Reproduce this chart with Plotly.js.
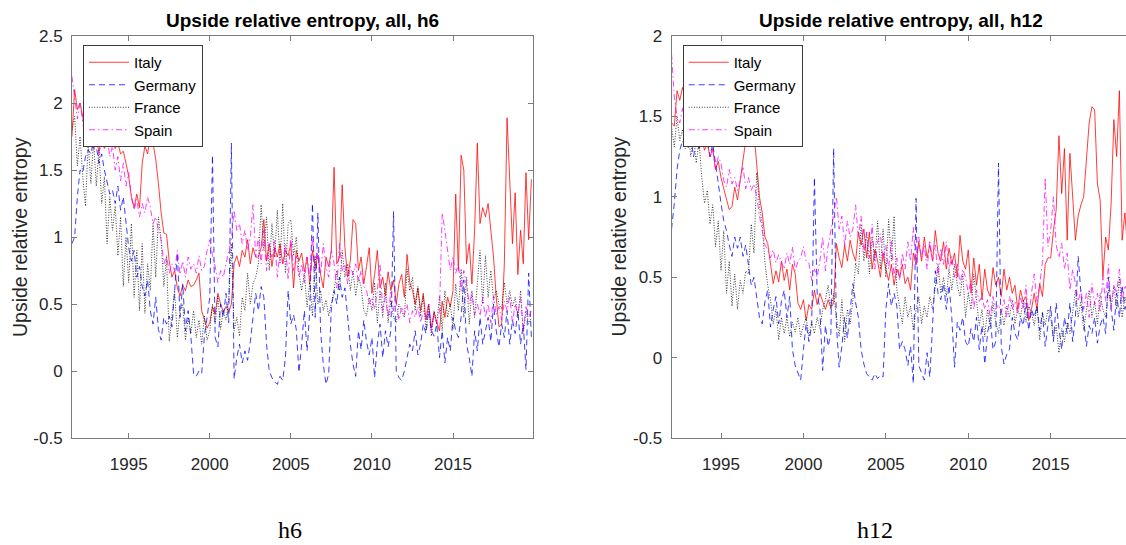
<!DOCTYPE html>
<html><head><meta charset="utf-8">
<script src="https://cdn.plot.ly/plotly-3.0.1.min.js"></script>
<style>html,body{margin:0;padding:0;background:#fff}#chart{width:1126px;height:545px}</style>
</head><body><div id="chart"></div>
<script>
const countries = ["Italy", "Germany", "France", "Spain"];
const tickYears = [1995, 2000, 2005, 2010, 2015];
const yTicksH6 = [-0.5, 0, 0.5, 1, 1.5, 2, 2.5];
const yTicksH12 = [-0.5, 0, 0.5, 1, 1.5, 2];
const h6Start = 1991.5;   // first observation, h6 panel
const h12Start = 1992.0;  // first observation, h12 panel
const stepYears = 1 / 6;  // two months

const h6Italy = [
 1.75, 2.10, 1.95,
 2.00, 1.90, 1.72, 1.68, 1.78, 1.66,
 1.72, 1.64, 1.74, 1.66, 1.70, 1.68,
 1.73, 1.66, 1.70, 1.62, 1.64, 1.55,
 1.45, 1.30, 1.22, 1.32, 1.22, 1.55,
 1.68, 1.62, 1.75, 1.70, 1.58, 1.40,
 1.18, 1.03, 1.02, 0.82, 0.70, 0.75,
 0.62, 0.56, 0.64, 0.60, 0.68, 0.63,
 0.64, 0.68, 0.73, 0.45, 0.38, 0.32,
 0.36, 0.48, 0.42, 0.58, 0.50, 0.44,
 0.48, 0.44, 0.50, 0.80, 0.86, 0.78,
 0.90, 0.85, 0.98, 0.80, 0.92, 0.85,
 0.85, 0.92, 1.13, 0.82, 0.95, 0.78,
 0.92, 0.85, 0.95, 0.80, 0.90, 0.86,
 0.95, 0.62, 0.90, 0.82, 0.88, 0.74,
 0.85, 0.65, 0.90, 0.78, 0.86, 0.72,
 0.62, 0.85, 0.78, 0.90, 1.52, 0.80,
 0.85, 1.39, 0.92, 0.70, 0.82, 1.13,
 1.10, 0.75, 0.85, 0.65, 0.78, 0.92,
 0.58, 0.72, 0.90, 0.62, 0.70, 0.56,
 0.74, 0.60, 0.68, 0.50, 0.65, 0.72,
 0.55, 0.87, 0.66, 0.60, 0.50, 0.62,
 0.45, 0.58, 0.38, 0.50, 0.32, 0.44,
 0.36, 0.30, 0.52, 0.40, 0.55, 0.48,
 0.60, 1.32, 0.75, 1.61, 1.50, 0.80,
 0.95, 0.65, 1.05, 1.70, 1.10, 1.22,
 1.15, 1.25, 1.05, 0.85, 0.55, 0.33,
 0.35, 0.80, 1.89, 1.40, 0.95, 1.33,
 0.72, 1.05, 0.80, 1.48, 0.98, 1.43
];
const h6Germany = [
 0.95, 1.00, 1.30,
 1.50, 1.48, 1.60, 1.65, 1.62, 1.72,
 1.68, 1.55, 1.62, 1.50, 1.40, 1.32,
 1.35, 1.25, 1.38, 1.20, 1.30, 1.10,
 0.92, 0.82, 0.90, 0.70, 0.78, 0.63,
 0.56, 0.68, 0.45, 0.35, 0.55, 0.31,
 0.23, 0.40, 0.35, 0.41, 0.33, 0.60,
 0.88, 0.40, 0.65, 0.30, 0.45, 0.26,
 -0.02, -0.04, 0.00, -0.02, 0.26, 0.40,
 0.55, 1.61, 0.25, 0.18, 0.50, 0.40,
 0.58, 0.36, 1.70, -0.06, 0.10, 0.20,
 0.06, 0.15, 0.08, 0.22, 0.40, 0.58,
 0.45, 0.63, 0.55, 0.20, 0.00, -0.05,
 -0.08, -0.10, -0.04, -0.07, 0.10, 0.60,
 0.35, 0.42, 0.31, -0.01, 0.20, 0.45,
 0.15, 0.45, 1.25, 0.40, 1.18, 0.30,
 0.05, -0.10, -0.02, 0.48, 0.60, 0.50,
 0.70, 0.55, 0.62, 0.40, 0.20, 0.05,
 -0.04, 0.30, 0.16, 0.38, 0.22, 0.12,
 0.25, -0.05, 0.20, 0.35, 0.10, 0.30,
 0.18, 0.30, 1.19, 0.00, -0.05, -0.07,
 0.00, 0.10, 0.20, 0.15, 0.30, 0.12,
 0.20, 0.35, 0.28, 0.45, 0.30, 0.26,
 0.35, 0.10, 0.30, 0.06, 0.25, 0.15,
 0.40, 0.30, 0.25, 0.40, 0.68, 0.20,
 0.10, -0.04, 0.30, 0.15, 0.40, 0.20,
 0.30, 0.40, 0.22, 0.50, 0.30, 0.18,
 0.35, 0.25, 0.45, 0.20, 0.38, 0.28,
 0.45, 0.20, 0.35, 0.01, 0.73, 0.25
];
const h6France = [
 1.80, 1.90, 1.53,
 1.75, 1.45, 1.23, 1.70, 1.40, 1.72,
 1.38, 1.65, 1.25, 1.45, 0.95, 1.30,
 1.05, 1.23, 0.86, 1.15, 0.63, 1.00,
 0.66, 1.10, 0.55, 0.90, 0.45, 0.95,
 0.43, 0.80, 0.60, 1.10, 0.70, 1.15,
 0.98, 0.63, 0.85, 0.22, 0.40, 0.60,
 0.25, 0.45, 0.50, 0.23, 0.40, 0.28,
 0.45, 0.25, 0.38, 0.20, 0.41, 0.23,
 0.30, 0.50, 0.35, 0.56, 0.31, 0.45,
 0.38, 0.53, 0.95, 0.30, 0.40, 0.26,
 0.55, 0.45, 0.73, 0.50, 0.65, 0.70,
 0.80, 1.24, 0.90, 1.15, 0.75, 1.10,
 0.85, 1.20, 0.80, 1.25, 0.73, 1.10,
 1.13, 0.86, 1.00, 0.73, 0.60, 0.73,
 0.48, 0.66, 0.41, 0.86, 0.50, 0.60,
 0.45, 0.53, 0.41, 0.50, 0.60, 0.75,
 0.60, 0.90, 0.70, 0.80, 0.60, 0.75,
 0.56, 0.70, 0.63, 0.45, 0.41, 0.55,
 0.45, 0.66, 0.36, 0.60, 0.40, 0.66,
 0.36, 0.53, 0.40, 0.36, 0.50, 0.45,
 0.40, 0.76, 0.60, 0.70, 0.45, 0.63,
 0.41, 0.56, 0.30, 0.50, 0.26, 0.45,
 0.35, 0.56, 0.30, 0.60, 0.40, 0.50,
 0.31, 0.65, 0.45, 0.76, 0.40, 0.70,
 0.35, 0.60, 0.40, 0.65, 0.90, 0.50,
 0.86, 0.55, 0.75, 0.53, 0.60, 0.50,
 0.46, 0.66, 0.50, 0.60, 0.48, 0.55,
 0.40, 0.60, 0.28, 0.45, 0.35, 0.40
];
const h6Spain = [
 2.20, 2.05, 1.88,
 2.00, 1.85, 1.75, 1.70, 1.78, 1.65,
 1.72, 1.62, 1.70, 1.68, 1.75, 1.60,
 1.68, 1.50, 1.60, 1.42, 1.55, 1.38,
 1.48, 1.30, 1.20, 1.28, 1.15, 1.25,
 1.18, 1.30, 1.22, 1.10, 1.15, 1.05,
 0.98, 0.80, 0.86, 0.73, 0.80, 0.75,
 0.90, 0.72, 0.82, 0.70, 0.85, 0.76,
 0.80, 0.73, 0.86, 0.75, 0.78, 0.90,
 0.98, 0.86, 0.78, 0.66, 0.75, 0.70,
 0.80, 0.90, 0.98, 1.20, 1.05, 1.10,
 0.95, 1.05, 0.90, 1.00, 1.24, 0.85,
 1.00, 0.80, 1.05, 0.75, 0.95, 0.85,
 0.98, 0.70, 0.90, 0.80, 0.95, 0.68,
 1.00, 0.75, 0.86, 0.70, 0.80, 0.66,
 0.85, 0.70, 1.00, 0.75, 0.90, 0.72,
 0.95, 0.78, 0.70, 0.90, 0.80, 0.62,
 0.95, 0.75, 0.80, 0.65, 0.78, 0.72,
 0.80, 0.66, 0.75, 0.63, 0.60, 0.50,
 0.55, 0.46, 0.60, 0.80, 0.45, 0.55,
 0.40, 0.60, 0.45, 0.52, 0.38, 0.48,
 0.42, 0.50, 0.36, 0.45, 0.40, 0.48,
 0.36, 0.45, 0.40, 0.50, 0.30, 0.42,
 0.35, 0.45, 1.18, 1.05, 0.90, 0.75,
 0.85, 0.73, 0.80, 0.60, 0.75, 0.65,
 0.50, 0.58, 0.42, 0.50, 0.41, 0.55,
 0.40, 0.50, 0.36, 0.56, 0.42, 0.48,
 0.38, 0.52, 0.45, 0.56, 0.36, 0.50,
 0.42, 0.55, 0.31, 0.48, 0.40, 0.45
];

const h12Italy = [
 1.46, 1.44, 1.66, 1.60, 1.68, 1.62,
 1.55, 1.37, 1.32, 1.39, 1.30, 1.36,
 1.29, 1.33, 1.25, 1.30, 1.17, 1.22,
 1.12, 1.05, 0.98, 0.92, 0.94, 1.06,
 0.98, 1.10, 1.20, 1.35, 1.42, 1.36,
 1.40, 1.17, 1.00, 0.90, 0.75, 0.71,
 0.59, 0.46, 0.54, 0.47, 0.60, 0.48,
 0.55, 0.42, 0.58, 0.52, 0.34, 0.30,
 0.36, 0.23, 0.33, 0.30, 0.42, 0.33,
 0.40, 0.35, 0.30, 0.36, 0.31, 0.34,
 0.71, 0.62, 0.56, 0.70, 0.60, 0.73,
 0.65, 0.60, 0.78, 0.70, 0.80, 0.62,
 0.78, 0.55, 0.67, 0.60, 0.50, 0.65,
 0.55, 0.48, 0.58, 0.45, 0.55, 0.50,
 0.58, 0.46, 0.50, 0.42, 0.65, 0.58,
 0.72, 0.60, 0.75, 0.62, 0.70, 0.60,
 0.79, 0.65, 0.60, 0.72, 0.55, 0.68,
 0.58, 0.65, 0.50, 0.76, 0.60, 0.55,
 0.67, 0.40, 0.62, 0.45, 0.58, 0.36,
 0.55, 0.42, 0.38, 0.56, 0.45, 0.50,
 0.38, 0.55, 0.42, 0.50, 0.40, 0.45,
 0.30, 0.42, 0.35, 0.38, 0.23, 0.30,
 0.40, 0.30, 0.46, 0.38, 0.58, 0.62,
 0.62, 0.79, 0.92, 1.38, 1.02, 1.30,
 0.73, 1.27, 0.96, 0.73, 0.88, 0.95,
 1.00, 1.21, 1.46, 1.56, 1.54, 1.08,
 0.98, 0.50, 0.75, 0.67, 0.96, 1.48,
 1.25, 1.66, 0.73, 0.90, 0.67
];
const h12Germany = [
 0.80, 0.96, 1.17, 1.29, 1.35, 1.31,
 1.30, 1.37, 1.25, 1.35, 1.30, 1.37,
 1.33, 1.35, 1.25, 1.33, 1.21, 1.10,
 0.96, 0.85, 0.79, 0.70, 0.63, 0.75,
 0.68, 0.75, 0.63, 0.70, 0.59, 0.45,
 0.50, 0.38, 0.25, 0.21, 0.35, 0.42,
 0.19, 0.30, 0.38, 0.21, 0.35, 0.42,
 0.25, 0.38, 0.05, -0.05, -0.10, -0.14,
 0.05, 0.21, 0.10, 0.20, 1.12, 0.40,
 0.30, -0.08, 0.20, 0.07, 0.15, 1.30,
 0.20, -0.06, 0.07, 0.25, 0.12, 0.28,
 0.46, 0.34, 0.25, 0.05, -0.04, -0.10,
 -0.12, -0.14, -0.10, -0.13, -0.11, -0.12,
 0.30, 0.46, 0.32, 0.40, 0.32, 0.05,
 0.10, 0.05, -0.05, 0.07, -0.16, 0.99,
 -0.05, -0.10, -0.14, 0.03, -0.12, 0.20,
 0.54, 0.40, 0.36, 0.46, 0.30, 0.45,
 0.25, -0.06, 0.22, 0.17, 0.25, 0.10,
 0.07, 0.18, 0.10, 0.25, 0.05, 0.20,
 -0.04, 0.15, 0.25, 0.05, 0.10, 1.21,
 0.07, -0.04, 0.02, 0.05, 0.25, 0.15,
 0.11, 0.25, 0.20, 0.34, 0.17, 0.30,
 0.25, 0.32, 0.17, 0.28, 0.07, 0.20,
 0.32, 0.10, 0.34, 0.18, 0.05, 0.25,
 0.15, 0.34, 0.10, 0.25, 0.63, 0.40,
 0.25, 0.07, 0.20, 0.15, 0.25, 0.09,
 0.20, 0.25, 0.15, 0.50, 0.30, 0.17,
 0.40, 0.25, 0.45, 0.30, 0.35
];
const h12France = [
 1.44, 1.31, 1.50, 1.35, 1.42, 1.30,
 1.41, 1.25, 1.38, 1.21, 1.35, 1.12,
 0.96, 1.04, 0.83, 0.95, 0.69, 0.85,
 0.54, 0.79, 0.40, 0.60, 0.32, 0.52,
 0.30, 0.48, 0.40, 0.54, 0.52, 0.83,
 0.65, 1.15, 0.94, 0.83, 0.59, 0.45,
 0.36, 0.21, 0.30, 0.11, 0.25, 0.15,
 0.25, 0.13, 0.22, 0.16, 0.25, 0.13,
 0.20, 0.25, 0.13, 0.22, 0.15, 0.25,
 0.18, 0.30, 0.36, 0.45, 0.30, 0.40,
 0.25, 0.13, 0.36, 0.10, 0.30, 0.21,
 0.36, 0.59, 0.52, 0.83, 0.60, 0.78,
 0.52, 0.75, 0.60, 0.85, 0.55, 0.80,
 0.50, 0.86, 0.60, 0.88, 0.42, 0.30,
 0.21, 0.38, 0.25, 0.32, 0.17, 0.30,
 0.38, 0.21, 0.32, 0.25, 0.38, 0.30,
 0.45, 0.58, 0.40, 0.50, 0.38, 0.55,
 0.42, 0.58, 0.45, 0.38, 0.52, 0.25,
 0.40, 0.30, 0.52, 0.34, 0.20, 0.30,
 0.13, 0.30, 0.18, 0.34, 0.22, 0.15,
 0.30, 0.20, 0.32, 0.25, 0.36, 0.21,
 0.30, 0.25, 0.36, 0.22, 0.32, 0.28,
 0.20, 0.32, 0.11, 0.28, 0.20, 0.30,
 0.25, 0.12, 0.20, 0.03, 0.18, 0.10,
 0.22, 0.15, 0.30, 0.42, 0.25, 0.35,
 0.17, 0.30, 0.42, 0.25, 0.35, 0.21,
 0.40, 0.30, 0.25, 0.42, 0.32, 0.45,
 0.30, 0.50, 0.25, 0.38, 0.30
];
const h12Spain = [
 1.89, 1.62, 1.50, 1.46, 1.55, 1.45,
 1.50, 1.42, 1.48, 1.40, 1.45, 1.38,
 1.39, 1.35, 1.25, 1.30, 1.17, 1.25,
 1.21, 1.10, 1.06, 1.17, 1.08, 1.12,
 1.04, 1.10, 1.19, 1.05, 1.12, 1.04,
 1.08, 1.00, 0.88, 0.80, 0.70, 0.67,
 0.62, 0.67, 0.59, 0.64, 0.60, 0.55,
 0.65, 0.58, 0.69, 0.54, 0.60, 0.62,
 0.69, 0.60, 0.59, 0.48, 0.55, 0.50,
 0.60, 0.75, 0.54, 0.70, 0.79, 0.90,
 1.00, 0.80, 0.88, 0.69, 0.85, 0.75,
 0.80, 0.95, 0.75, 0.88, 0.65, 0.78,
 0.62, 0.83, 0.55, 0.72, 0.77, 0.60,
 0.70, 0.55, 0.73, 0.50, 0.62, 0.48,
 0.65, 0.55, 0.72, 0.60, 0.81, 0.57,
 0.75, 0.62, 0.70, 0.55, 0.73, 0.60,
 0.70, 0.50, 0.68, 0.58, 0.72, 0.55,
 0.63, 0.50, 0.58, 0.46, 0.55, 0.50,
 0.40, 0.48, 0.30, 0.42, 0.35, 0.38,
 0.30, 0.36, 0.25, 0.38, 0.30, 0.33,
 0.28, 0.36, 0.25, 0.38, 0.30, 0.35,
 0.27, 0.38, 0.30, 0.45, 0.25, 0.40,
 0.52, 0.35, 0.45, 0.60, 1.12, 0.69,
 0.79, 1.00, 0.70, 0.62, 0.71, 0.55,
 0.65, 0.42, 0.55, 0.46, 0.35, 0.42,
 0.30, 0.40, 0.25, 0.46, 0.33, 0.40,
 0.28, 0.50, 0.35, 0.58, 0.30, 0.45,
 0.40, 0.55, 0.35, 0.45, 0.40
];

// ---- styling ----
const W = 1126, H = 545;
const px = v => v / W, py = v => 1 - v / H;
const lineStyles = {
  Italy:   {color: "#ff0000", dash: "solid"},
  Germany: {color: "#0000ff", dash: "6px,4px"},
  France:  {color: "#000000", dash: "1px,1.6px"},
  Spain:   {color: "#ff00ff", dash: "6px,3px,1.5px,3px"}
};
function grid(start, n) { const a = []; for (let i = 0; i < n; i++) a.push(start + i * stepYears); return a; }
const fmt = v => String(v); // plain hyphen-minus like the reference

const panels = [
  {series: [h6Italy, h6Germany, h6France, h6Spain], start: h6Start, xa: "x", ya: "y", legend: "legend"},
  {series: [h12Italy, h12Germany, h12France, h12Spain], start: h12Start, xa: "x2", ya: "y2", legend: "legend2"}
];
const traces = [];
panels.forEach(p => {
  p.series.forEach((vals, k) => {
    const name = countries[k];
    traces.push({
      type: "scatter", mode: "lines", name: name,
      x: grid(p.start, vals.length), y: vals,
      xaxis: p.xa, yaxis: p.ya, legend: p.legend,
      line: {color: lineStyles[name].color, dash: lineStyles[name].dash, width: 0.9},
      opacity: 0.85, hoverinfo: "skip"
    });
  });
});

const tickFont = {family: "Liberation Sans, Arial, sans-serif", size: 17, color: "#262626"};
const axisCommon = {showline: true, linecolor: "#7a7a7a", linewidth: 1, ticks: "inside", ticklen: 5,
  tickcolor: "#7a7a7a", showgrid: false, zeroline: false, tickfont: tickFont, fixedrange: true};

const legendCommon = {xanchor: "left", yanchor: "top", bgcolor: "#ffffff", bordercolor: "#3a3a3a", borderwidth: 1,
  font: {family: "Liberation Sans, Arial, sans-serif", size: 15, color: "#000"}, itemwidth: 40, tracegroupgap: 0};

const layout = {
  width: W, height: H, margin: {l: 0, r: 0, t: 0, b: 0}, paper_bgcolor: "#fff", plot_bgcolor: "#fff",
  showlegend: true,
  xaxis: Object.assign({}, axisCommon, {domain: [px(72), px(532.7)], range: [1991.503, 2019.915],
    tickvals: tickYears, ticktext: tickYears.map(String), mirror: "ticks", anchor: "y", ticklabelstandoff: 11}),
  yaxis: Object.assign({}, axisCommon, {domain: [1 - 438 / H, 1 - 36 / H], range: [-0.5, 2.5],
    tickvals: yTicksH6, ticktext: yTicksH6.map(fmt), mirror: "ticks", anchor: "x", ticklabelstandoff: 5}),
  xaxis2: Object.assign({}, axisCommon, {domain: [px(671.7), 1], range: [1992.009, 2019.568],
    tickvals: tickYears, ticktext: tickYears.map(String), mirror: "ticks", anchor: "y2", ticklabelstandoff: 11}),
  yaxis2: Object.assign({}, axisCommon, {domain: [1 - 438 / H, 1 - 36 / H], range: [-0.5, 2],
    tickvals: yTicksH12, ticktext: yTicksH12.map(fmt), mirror: false, anchor: "x2", ticklabelstandoff: 5}),
  legend: Object.assign({}, legendCommon, {x: px(83), y: py(45)}),
  legend2: Object.assign({}, legendCommon, {x: px(682.7), y: py(45)}),
  annotations: [
    {text: "<b>Upside relative entropy, all, h6</b>", xref: "paper", yref: "paper", x: px(302.4), y: py(21),
     xanchor: "center", yanchor: "middle", showarrow: false, font: {family: "Liberation Sans, Arial, sans-serif", size: 19, color: "#000"}},
    {text: "<b>Upside relative entropy, all, h12</b>", xref: "paper", yref: "paper", x: px(901.3), y: py(21),
     xanchor: "center", yanchor: "middle", showarrow: false, font: {family: "Liberation Sans, Arial, sans-serif", size: 19, color: "#000"}},
    {text: "Upside relative entropy", xref: "paper", yref: "paper", x: px(20), y: py(237), textangle: -90,
     xanchor: "center", yanchor: "middle", showarrow: false, font: {family: "Liberation Sans, Arial, sans-serif", size: 19.5, color: "#262626"}},
    {text: "Upside relative entropy", xref: "paper", yref: "paper", x: px(618.5), y: py(237), textangle: -90,
     xanchor: "center", yanchor: "middle", showarrow: false, font: {family: "Liberation Sans, Arial, sans-serif", size: 19.5, color: "#262626"}},
    {text: "h6", xref: "paper", yref: "paper", x: px(290), y: py(530), xanchor: "center", yanchor: "middle",
     showarrow: false, font: {family: "Liberation Serif, DejaVu Serif, serif", size: 24, color: "#000"}},
    {text: "h12", xref: "paper", yref: "paper", x: px(875), y: py(530), xanchor: "center", yanchor: "middle",
     showarrow: false, font: {family: "Liberation Serif, DejaVu Serif, serif", size: 24, color: "#000"}}
  ]
};

Plotly.newPlot("chart", traces, layout, {displayModeBar: false, staticPlot: true});
</script>
</body></html>
